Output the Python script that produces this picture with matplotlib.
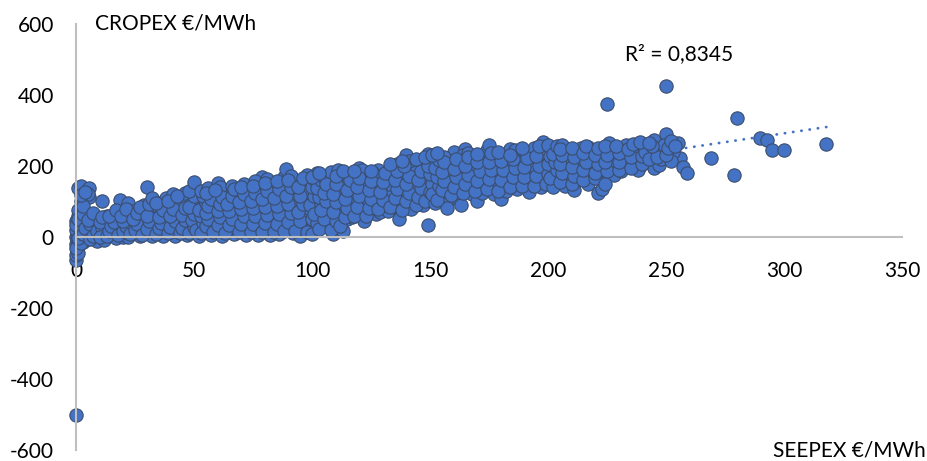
import numpy as np
import matplotlib
matplotlib.use("Agg")
import matplotlib.pyplot as plt

plt.rcParams["font.family"] = ["Lato", "DejaVu Sans"]
plt.rcParams["axes.unicode_minus"] = False

# (SEEPEX, CROPEX) price pairs in EUR/MWh
pts_0_50 = [
    (0, -65), (0, -50), (0.5, -35), (1, -25), (0, -20), (1, -10), (2, -5), (3, -15),
    (0, 0), (0.5, 5), (1, 10), (0, 20), (1.5, 30), (0, 45), (1, 60), (2, 75),
    (2, 100), (1, 139), (2, 145), (1, 75),
    (4, -8), (5, 5), (3, 18), (5, 28), (4, 40), (6, 55), (5.6, 114), (5.6, 139),
    (5, 120), (3, -2), (6, 12),
    (8, -5), (9, 8), (7, 20), (10, 32), (8, 45), (9, -12), (11, 100), (10, 15),
    (12, -3), (13, 10), (14, 22), (12, 35), (15, 48), (13, 60), (15, 5),
    (17, -2), (18, 12), (16, 25), (19, 38), (17, 52), (19, 65), (18.6, 105), (20, 0),
    (22, 0), (21, 15), (24, 28), (23, 42), (22, 97), (25, 55), (24, 72),
    (27, 3), (26, 18), (29, 30), (28, 45), (27, 60), (30, 75), (30, 141), (29, 90),
    (32, 2), (33, 16), (31, 32), (34, 48), (32, 62), (35, 80), (33, 100),
    (37, 4), (36, 20), (39, 35), (38, 50), (36, 68), (40, 85), (38, 110),
    (42, 3), (41, 18), (44, 34), (43, 52), (42, 70), (45, 88), (44, 105), (41, 120),
    (47, 5), (46, 22), (49, 38), (48, 55), (47, 72), (50, 90), (49, 108), (46, 125),
    (1, -45), (0, -30), (2, -18), (1, -3), (2, 15), (0, 35), (1, 52), (3, 66),
    (3, 88), (2, 118), (4, 128), (3, 8), (4, 25), (6, 38), (5, 48), (7, 68),
    (6, -6), (7, 2), (9, 18), (11, 26), (10, 42), (11, 55), (12, -8), (10, 0),
    (13, 3), (14, 16), (15, 30), (16, 42), (14, 58), (17, 75),
    (18, 5), (20, 18), (21, 32), (20, 45), (19, 58), (21, 80),
    (23, 8), (25, 20), (26, 38), (24, 50), (26, 68), (27, 85),
    (28, 6), (30, 22), (31, 45), (30, 58), (31, 92), (32, 110),
    (34, 8), (35, 25), (36, 40), (35, 55), (37, 75), (34, 95),
    (39, 10), (40, 28), (42, 45), (40, 60), (41, 78), (39, 100),
    (44, 12), (45, 25), (46, 48), (45, 63), (46, 82), (43, 115),
    (48, 10), (50, 28), (49, 48), (50, 65), (48, 85), (50, 115), (48, 130),
]

pts_50_100 = [
    (52, 4), (51, 20), (54, 40), (53, 58), (52, 75), (55, 95), (50, 156), (54, 115), (53, 130),
    (57, 6), (56, 25), (59, 45), (58, 62), (57, 80), (60, 100), (58, 120), (56, 138),
    (62, 3), (61, 22), (64, 42), (63, 60), (62, 82), (65, 102), (60, 153), (64, 122), (61, 140),
    (67, 8), (66, 28), (69, 48), (68, 66), (67, 86), (70, 108), (68, 128), (66, 145),
    (72, 5), (71, 25), (74, 45), (73, 68), (72, 90), (75, 110), (73, 132), (71, 150),
    (77, 7), (76, 30), (79, 52), (78, 72), (77, 95), (79, 170), (80, 115), (78, 140), (76, 158),
    (82, 5), (81, 28), (84, 50), (83, 75), (82, 98), (85, 120), (83, 145), (81, 162),
    (86, 8), (87, 30), (89, 55), (88, 78), (86, 100), (88, 170), (89, 192), (90, 125), (87, 148),
    (92, 10), (91, 35), (94, 58), (93, 82), (92, 105), (95, 128), (93, 152), (91, 172),
    (95, 3), (97, 28), (96, 52), (99, 78), (98, 102), (97, 130), (99, 155), (98, 175),
    (53, 12), (55, 30), (56, 50), (55, 68), (56, 88), (57, 108), (55, 125),
    (58, 14), (60, 35), (61, 55), (60, 72), (61, 92), (62, 112), (59, 132),
    (63, 12), (65, 35), (66, 52), (65, 72), (64, 92), (66, 115), (67, 135),
    (69, 15), (70, 38), (71, 58), (70, 78), (69, 98), (71, 120), (70, 140),
    (74, 15), (75, 38), (76, 60), (75, 82), (74, 100), (76, 125), (75, 145),
    (79, 15), (80, 40), (81, 62), (80, 85), (79, 108), (81, 130), (80, 152),
    (84, 15), (85, 38), (86, 65), (85, 88), (84, 110), (86, 135), (85, 158),
    (88, 18), (90, 42), (91, 68), (90, 92), (89, 115), (91, 140), (90, 160),
    (93, 18), (95, 45), (94, 70), (96, 92), (95, 115), (94, 140), (96, 165),
    (98, 15), (100, 50), (99, 90), (101, 115), (100, 142), (101, 162), (102, 180),
]

pts_100_150 = [
    (100, 8), (102, 40), (101, 65), (104, 90), (103, 112), (102, 138), (104, 160), (100, 170), (105, 170),
    (109, 8), (107, 30), (106, 58), (108, 85), (107, 110), (109, 135), (106, 160), (108, 182),
    (111, 190), (113, 17), (112, 45), (114, 70), (111, 95), (113, 120), (112, 145), (114, 180), (115, 50),
    (117, 55), (116, 80), (119, 105), (118, 130), (117, 155), (120, 194), (116, 175),
    (122, 44), (121, 70), (124, 95), (123, 120), (122, 145), (124, 170), (121, 190),
    (127, 65), (129, 70), (126, 92), (128, 118), (127, 142), (129, 165), (128, 190), (126, 180),
    (132, 72), (131, 98), (134, 122), (133, 148), (132, 172), (134, 195), (135, 85),
    (137, 50), (136, 88), (139, 110), (138, 135), (137, 160), (139, 182), (140, 230), (136, 205),
    (142, 80), (141, 105), (144, 128), (143, 152), (142, 178), (144, 200), (141, 215),
    (149, 33), (147, 90), (146, 115), (149, 140), (148, 165), (147, 190), (149, 235), (146, 210),
    (103, 22), (105, 50), (104, 75), (106, 100), (105, 125), (106, 148), (103, 180),
    (108, 20), (110, 45), (109, 70), (110, 98), (109, 122), (110, 150), (110, 172),
    (112, 30), (114, 55), (115, 82), (114, 108), (115, 132), (116, 160), (113, 185),
    (118, 60), (119, 85), (120, 115), (119, 140), (120, 165), (118, 185),
    (123, 58), (124, 82), (125, 108), (124, 132), (125, 158), (125, 185),
    (128, 80), (130, 105), (129, 128), (130, 155), (131, 180),
    (133, 85), (135, 110), (136, 135), (135, 160), (136, 185), (133, 205),
    (138, 75), (140, 100), (141, 125), (140, 150), (141, 172), (139, 200), (138, 215),
    (144, 90), (145, 112), (146, 138), (145, 160), (146, 185), (144, 220),
    (148, 100), (150, 128), (151, 150), (150, 178), (149, 200), (148, 225),
]

pts_150_200 = [
    (152, 95), (151, 120), (154, 145), (153, 170), (152, 195), (154, 218), (151, 230),
    (158, 105), (156, 130), (159, 155), (157, 180), (158, 205), (160, 240), (156, 225), (157, 82),
    (162, 110), (161, 135), (164, 160), (163, 185), (162, 210), (165, 247), (164, 232), (163, 90),
    (168, 120), (166, 145), (169, 170), (167, 195), (168, 218), (166, 238), (170, 100),
    (172, 125), (171, 150), (174, 172), (173, 198), (172, 222), (174, 245),
    (177, 120), (176, 148), (179, 175), (178, 200), (175, 258), (177, 225), (180, 108),
    (182, 130), (181, 155), (184, 180), (183, 205), (182, 228), (184, 248),
    (187, 135), (189, 230), (186, 160), (188, 185), (187, 210), (186, 245),
    (192, 128), (191, 155), (194, 178), (193, 202), (192, 225), (194, 250),
    (197, 140), (196, 165), (199, 190), (198, 267), (197, 215), (199, 238),
    (153, 105), (155, 132), (156, 158), (155, 182), (156, 210), (153, 238),
    (159, 118), (160, 142), (161, 168), (160, 192), (161, 220),
    (164, 125), (165, 150), (166, 175), (165, 200), (166, 225),
    (169, 130), (170, 158), (171, 185), (170, 210), (170, 235),
    (174, 135), (175, 162), (176, 188), (175, 212), (176, 238),
    (179, 130), (180, 160), (181, 190), (180, 215), (179, 240),
    (184, 140), (185, 168), (186, 195), (185, 220), (184, 230),
    (189, 145), (190, 170), (190, 198), (191, 222), (189, 250),
    (194, 145), (195, 172), (196, 200), (195, 228), (196, 255),
    (199, 150), (200, 178), (200, 205), (201, 228), (200, 260),
]

pts_200_up = [
    (202, 140), (201, 165), (204, 188), (203, 212), (202, 235), (204, 255),
    (207, 145), (206, 170), (209, 195), (206, 258), (208, 220), (209, 240),
    (211, 133), (212, 160), (214, 185), (213, 208), (212, 232), (214, 250),
    (217, 150), (216, 175), (219, 198), (217, 253), (218, 222), (219, 240),
    (221, 125), (223, 136), (222, 165), (224, 190), (221, 215), (223, 238),
    (226, 264), (228, 175), (227, 200), (229, 225), (226, 245), (225, 375),
    (233, 222), (231, 185), (234, 205), (232, 245), (233, 260),
    (239, 256), (239, 200), (237, 215), (236, 235), (238, 190),
    (242, 210), (244, 235), (245, 272), (245, 194), (241, 250),
    (247, 203), (247, 239), (250, 289), (248, 220), (250, 425), (249, 260),
    (255, 264), (256, 222), (257, 197), (259, 180), (253, 240), (252, 215),
    (205, 155), (206, 180), (205, 205), (206, 230), (205, 248),
    (210, 150), (211, 172), (210, 198), (211, 225), (210, 250),
    (215, 160), (215, 188), (216, 212), (215, 238), (216, 255),
    (220, 165), (220, 180), (221, 205), (220, 230), (221, 250),
    (224, 148), (225, 185), (224, 212), (225, 232), (224, 255),
    (230, 190), (230, 212), (230, 238), (229, 255),
    (235, 195), (235, 225), (234, 248), (236, 262),
    (240, 205), (240, 228), (241, 240), (239, 268),
    (243, 220), (246, 225), (244, 255), (243, 265),
    (250, 230), (251, 250), (252, 270), (254, 255),
    (269, 222), (279, 176), (280, 336), (290, 278), (293, 272), (295, 244),
    (300, 244), (318, 261),
]

outliers = [(0, -500)]

# linear trendline as drawn in the chart (R^2 = 0.8345)
trend_slope = 0.99
trend_intercept = -5.0

x_ticks = [0, 50, 100, 150, 200, 250, 300, 350]
y_ticks = [-600, -400, -200, 0, 200, 400, 600]

pts = pts_0_50 + pts_50_100 + pts_100_150 + pts_150_200 + pts_200_up + outliers
seepex = np.array([p[0] for p in pts])
cropex = np.array([p[1] for p in pts])

fig = plt.figure(figsize=(9.28, 4.61), dpi=100)
ax = fig.add_axes([76 / 928, 11 / 461, 826 / 928, 426 / 461])

xs = np.array([seepex.min(), seepex.max()])
ax.plot(xs, trend_slope * xs + trend_intercept, color="#4472C4", lw=2.0,
        linestyle=(0, (0.1, 2.9)), dash_capstyle="round", zorder=1)
ax.scatter(seepex, cropex, s=92, color="#4472C4", edgecolor="#3B4E6E",
           linewidth=0.8, zorder=2, clip_on=False)

ax.set_xlim(0, 350)
ax.set_ylim(-600, 600)
ax.set_xticks(x_ticks)
ax.set_yticks(y_ticks)

for side in ["top", "right"]:
    ax.spines[side].set_visible(False)
ax.spines["bottom"].set_position(("data", 0))
for side in ["bottom", "left"]:
    ax.spines[side].set_color("#BFBFBF")
    ax.spines[side].set_linewidth(1.5)
ax.tick_params(axis="both", length=0, labelsize=15, colors="black")
ax.tick_params(axis="x", pad=17)
ax.tick_params(axis="y", pad=16)

fig.text(95 / 928, 1 - 23 / 461, "CROPEX €/MWh", fontsize=15, va="center", ha="left")
fig.text(926 / 928, 1 - 450 / 461, "SEEPEX €/MWh", fontsize=15, va="center", ha="right")
fig.text(625 / 928, 1 - 54 / 461, "R² = 0,8345", fontsize=15, va="center", ha="left")

fig.savefig("out.png", dpi=100)
